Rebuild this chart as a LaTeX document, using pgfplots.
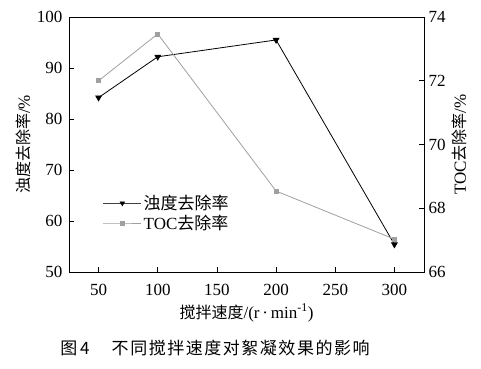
\documentclass[border=0pt]{standalone}
\usepackage{fontspec}
\setmainfont{Liberation Serif}
\newfontfamily\cjk{Noto Sans CJK SC}
\usepackage{pgfplots}
\pgfplotsset{compat=1.18}
\definecolor{tocgray}{RGB}{160,160,160}
\pgfplotsset{
  longlegend/.style={legend image code/.code={
    \draw[##1, mark repeat=2, mark phase=2] plot coordinates {(0pt,0pt) (19pt,0pt) (38pt,0pt)};}}
}
\begin{document}
\begin{tikzpicture}[font=\fontsize{17}{19}\selectfont]
\path[use as bounding box] (-69pt,-96pt) rectangle (412pt,272pt);
\begin{axis}[at={(0pt,0pt)}, anchor=south west, scale only axis,
  width=355pt, height=255pt,
  xmin=25, xmax=325, ymin=50, ymax=100,
  xtick={50,100,150,200,250,300}, ytick={50,60,70,80,90,100},
  xtick pos=bottom, ytick pos=left, tick align=inside,
  major tick length=5pt,
  /pgf/number format/assume math mode=true,
  axis line style={black, line width=0.8pt},
  tick style={black, line width=0.7pt},
  xticklabel style={yshift=-9pt},
  yticklabel style={xshift=-3pt},
  xlabel={{\cjk\fontsize{16}{18}\selectfont 搅拌速度}/(r\,·\,min\textsuperscript{-1})},
  ylabel={{\cjk\fontsize{16}{18}\selectfont 浊度去除率}/\%},
  xlabel style={yshift=-1pt},
  ylabel style={yshift=-1pt},
]
\addplot[black, line width=0.8pt, mark=triangle*, mark size=3.2pt, mark options={rotate=180}]
  coordinates {(50,84.2) (100,92.2) (200,95.5) (300,55.4)};
\end{axis}
\begin{axis}[at={(0pt,0pt)}, anchor=south west, scale only axis,
  width=355pt, height=255pt,
  xmin=25, xmax=325, ymin=66, ymax=74,
  axis x line=none, axis y line*=right,
  ytick={66,68,70,72,74}, tick align=inside, major tick length=5pt,
  /pgf/number format/assume math mode=true,
  axis line style={black, line width=0.8pt},
  tick style={black, line width=0.7pt},
  yticklabel style={xshift=1pt},
  ylabel={TOC{\cjk\fontsize{16}{18}\selectfont 去除率}/\%},
  legend style={draw=none, fill=none, at={(0.095,0.31)}, anchor=north west,
    font=\fontsize{17}{19}\selectfont, row sep=0pt, inner sep=0pt,
    /tikz/every even column/.append style={column sep=0pt}},
  legend cell align=left, longlegend,
]
\addlegendimage{black!75, line width=0.6pt, mark=triangle*, mark size=2.6pt, mark options={rotate=180, black}}
\addlegendentry{{\cjk 浊度去除率}}
\addplot[tocgray, line width=0.8pt, mark=square*, mark size=2pt]
  coordinates {(50,72.0) (100,73.47) (200,68.54) (300,67.03)};
\addlegendentry{TOC{\cjk 去除率}}
\end{axis}
\node[font=\fontsize{17}{19}\selectfont\cjk, anchor=center] at (146pt,-76pt)
  {图\,4\hspace{1.3em}{\addfontfeature{LetterSpace=9}不同搅拌速度对絮凝效果的影响}};
\end{tikzpicture}
\end{document}
